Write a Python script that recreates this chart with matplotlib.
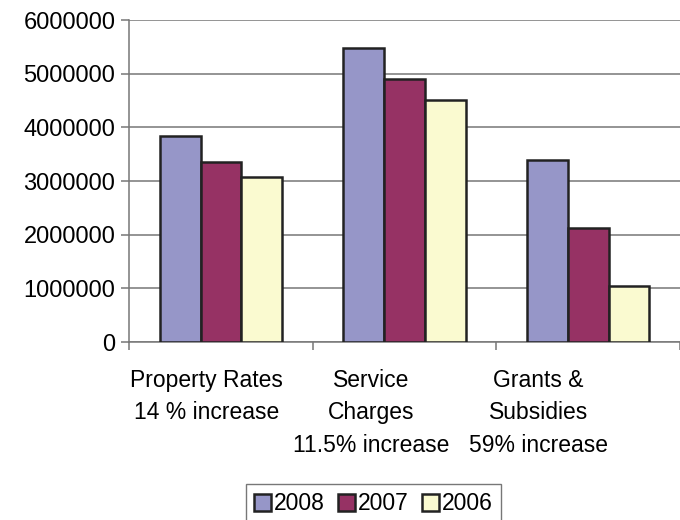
import numpy as np
import matplotlib.pyplot as plt
from matplotlib.ticker import FixedLocator, NullFormatter

plt.rcParams['font.family'] = ['Liberation Sans', 'DejaVu Sans']

categories = ["Property Rates\n14 % increase",
              "Service\nCharges\n11.5% increase",
              "Grants &\nSubsidies\n59% increase"]
years = ["2008", "2007", "2006"]
values_2008 = [3840000, 5480000, 3390000]
values_2007 = [3350000, 4910000, 2130000]
values_2006 = [3070000, 4510000, 1040000]
colors = ["#9696c8", "#963264", "#fafad0"]

# horizontal nudge of each category label (data units)
label_shift = [-0.08, -0.18, -0.27]


def main():
    fig = plt.figure(figsize=(6.8, 5.2), dpi=100)
    ax = fig.add_axes([0.19, 0.342, 0.81, 0.6195])

    x = np.arange(len(categories))
    width = 0.222
    series = [values_2008, values_2007, values_2006]
    for i, (vals, yr, col) in enumerate(zip(series, years, colors)):
        ax.bar(x + (i - 1) * width, vals, width, color=col, edgecolor="#222222",
               linewidth=1.8, label=yr, zorder=3)

    ax.set_xlim(-0.5, 2.5)
    ax.set_ylim(0, 6000000)
    ax.set_yticks(np.arange(0, 6000001, 1000000))
    ax.set_yticklabels([str(v) for v in range(0, 6000001, 1000000)], fontsize=17)
    ax.yaxis.grid(True, color="#777777", linewidth=1.1, zorder=0)

    # category boundary ticks, labels placed separately
    ax.xaxis.set_major_locator(FixedLocator([-0.5, 0.5, 1.5, 2.5]))
    ax.xaxis.set_major_formatter(NullFormatter())
    ax.tick_params(axis="x", direction="out", length=6, color="#777777", width=1.1)
    ax.tick_params(axis="y", direction="out", length=6, color="#777777", width=1.1, pad=4)

    for i, lab in enumerate(categories):
        ax.text(x[i] + label_shift[i], -0.083, lab, transform=ax.get_xaxis_transform(),
                ha="center", va="top", fontsize=16.5, linespacing=1.52)

    for side in ["top", "right"]:
        ax.spines[side].set_visible(False)
    for side in ["left", "bottom"]:
        ax.spines[side].set_color("#777777")
        ax.spines[side].set_linewidth(1.1)

    leg = fig.legend(loc="upper center", bbox_to_anchor=(0.549, 0.069), ncol=3,
                     fontsize=16.5, frameon=True, fancybox=False, edgecolor="#555555",
                     handlelength=0.75, handleheight=0.75, handletextpad=0.15,
                     columnspacing=0.55, borderpad=0.35, borderaxespad=0)
    leg.get_frame().set_linewidth(1.0)

    plt.savefig("out.png", dpi=100)


if __name__ == "__main__":
    main()
